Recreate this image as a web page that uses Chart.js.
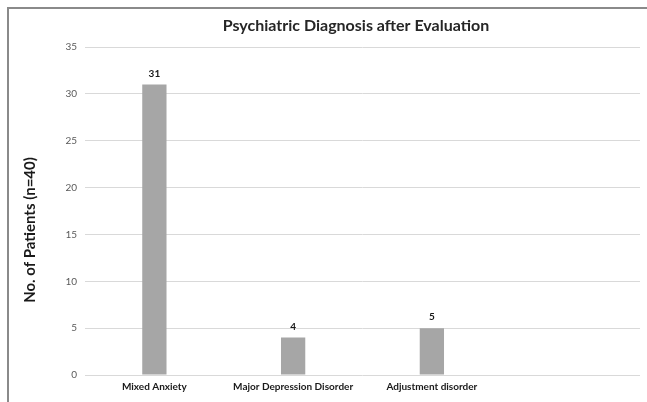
<!DOCTYPE html>
<html>
<head>
<meta charset="utf-8">
<script src="https://cdn.jsdelivr.net/npm/chart.js@4.4.0/dist/chart.umd.min.js"></script>
<style>
  html, body { margin: 0; padding: 0; background: #fff; }
  #wrap { position: relative; width: 647px; height: 402px; }
  #frame { position: absolute; left: 7px; top: 7px; right: 0; bottom: 0;
           border-left: 2px solid #8a8a8a; border-top: 2px solid #8a8a8a; pointer-events: none; }
</style>
</head>
<body>
<div id="wrap">
  <canvas id="barChart" width="647" height="402"></canvas>
  <div id="frame"></div>
</div>
<script>
// Dados do gráfico
const categorias = ['Mixed Anxiety', 'Major Depression Disorder', 'Adjustment disorder', ''];
const pacientes = [31, 4, 5, null];
const yTicks = [0, 5, 10, 15, 20, 25, 30, 35];
const titulo = 'Psychiatric Diagnosis after Evaluation';
const tituloY = 'No. of Patients (n=40)';

const FONT = 'Lato, "Open Sans", sans-serif';

// Títulos e rótulos de valor desenhados à mão (posição igual ao Excel)
const extras = {
  id: 'extras',
  afterDatasetsDraw(chart) {
    const ctx = chart.ctx;
    const meta = chart.getDatasetMeta(0);
    ctx.save();
    ctx.font = 'bold 10px ' + FONT;
    ctx.fillStyle = '#1a1a1a';
    ctx.textAlign = 'center';
    ctx.textBaseline = 'bottom';
    meta.data.forEach((bar, i) => {
      const v = pacientes[i];
      if (v == null) return;
      ctx.fillText(String(v), bar.x, bar.y - 6);
    });

    ctx.fillStyle = '#262626';
    ctx.font = 'bold 16px ' + FONT;
    ctx.textBaseline = 'middle';
    ctx.fillText(titulo, 356, 26);

    ctx.translate(30, 230);
    ctx.rotate(-Math.PI / 2);
    ctx.fillStyle = '#1a1a1a';
    ctx.font = 'bold 15px ' + FONT;
    ctx.fillText(tituloY, 0, 0);
    ctx.restore();
  }
};

const ctx = document.getElementById('barChart').getContext('2d');
new Chart(ctx, {
  type: 'bar',
  data: {
    labels: categorias,
    datasets: [{
      data: pacientes,
      backgroundColor: '#a6a6a6',
      borderWidth: 0,
      barPercentage: 0.5,
      categoryPercentage: 0.35
    }]
  },
  options: {
    responsive: false,
    animation: false,
    layout: { padding: { top: 47, bottom: 3, left: 20, right: 7 } },
    plugins: {
      legend: { display: false },
      tooltip: { enabled: false },
      title: { display: false }
    },
    scales: {
      y: {
        min: 0,
        max: 35,
        afterBuildTicks: (scale) => { scale.ticks = yTicks.map(v => ({ value: v })); },
        afterFit: (scale) => { scale.width = 65; },
        ticks: {
          padding: 8,
          color: '#595959',
          font: { family: FONT, size: 10 }
        },
        grid: { color: '#d9d9d9', drawTicks: false },
        border: { display: false }
      },
      x: {
        ticks: {
          padding: 6,
          color: '#1a1a1a',
          maxRotation: 0,
          font: { family: FONT, size: 10, weight: 'bold' }
        },
        grid: { display: false, drawTicks: false },
        border: { display: false }
      }
    }
  },
  plugins: [extras]
});
</script>
</body>
</html>
